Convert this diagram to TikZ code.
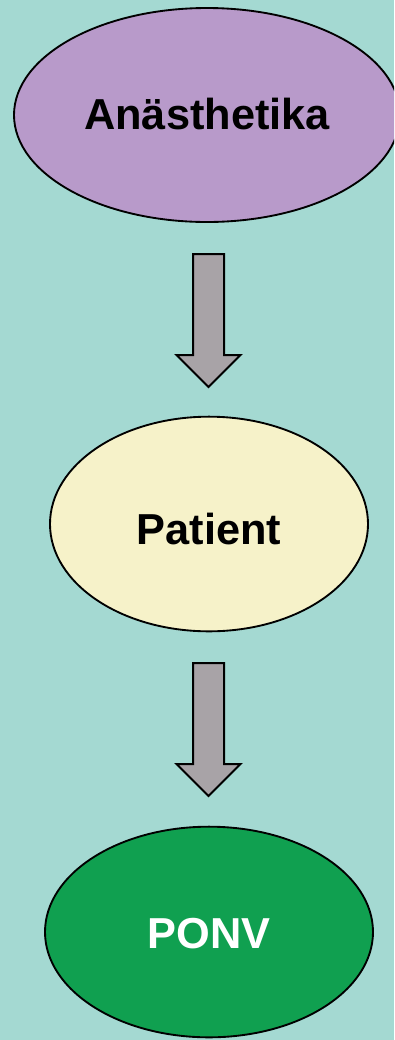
\documentclass[tikz,border=0pt]{standalone}
\usepackage{fontspec}
\setmainfont{Liberation Sans}
\usetikzlibrary{shapes.geometric}
\definecolor{bgteal}{HTML}{A4D9D2}
\definecolor{anaviolet}{HTML}{B89ACA}
\definecolor{patcream}{HTML}{F6F2C9}
\definecolor{ponvgreen}{HTML}{10A050}
\definecolor{arrgray}{HTML}{A8A3A7}
\tikzset{
  blob/.style={ellipse, draw=black, line width=1.4pt, inner sep=0pt, font=\fontsize{32.5}{38}\selectfont\bfseries},
  blockarrow/.style={draw=black, fill=arrgray, line width=1.5pt, line join=miter}
}
\begin{document}
\begin{tikzpicture}[x=0.75pt, y=-0.75pt]
\useasboundingbox (0,0) rectangle (394,1040);
\clip (0,0) rectangle (394,1040);
\fill[bgteal] (0,0) rectangle (394,1040);
% the three ellipses
\node[blob, fill=anaviolet, minimum width=289.5pt, minimum height=160.5pt, text height=24pt, text depth=3pt] (ana) at (207,115) {Anästhetika};
\node[blob, fill=patcream, minimum width=238.5pt, minimum height=161pt, text height=31pt, text depth=0pt] (pat) at (209,524) {Patient};
\node[blob, fill=ponvgreen, text=white, minimum width=246pt, minimum height=158pt, text height=25pt, text depth=0pt] (ponv) at (209,932) {PONV};
% block arrows between them
\draw[blockarrow] (193,254) -- (224,254) -- (224,355) -- (240.5,355) -- (208.5,387) -- (176.5,355) -- (193,355) -- cycle;
\draw[blockarrow] (193,663) -- (224,663) -- (224,764) -- (240.5,764) -- (208.5,796) -- (176.5,764) -- (193,764) -- cycle;
\end{tikzpicture}
\end{document}
